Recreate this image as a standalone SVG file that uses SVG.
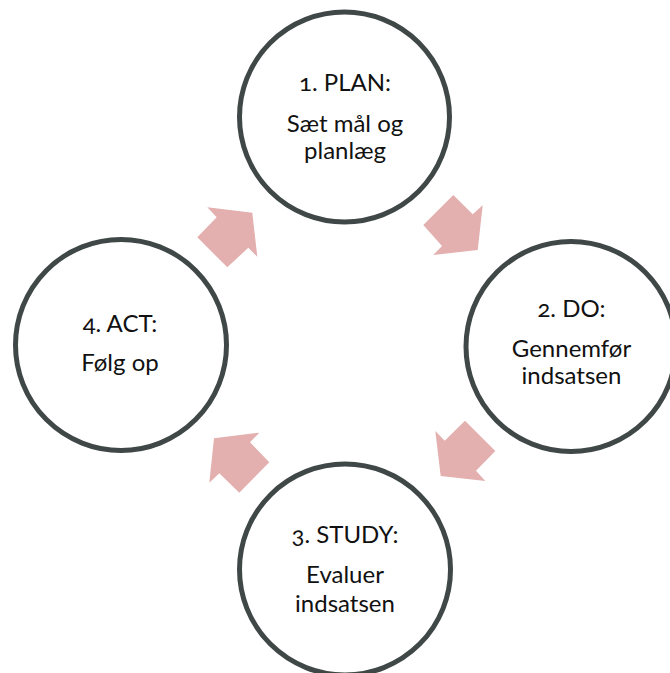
<svg xmlns="http://www.w3.org/2000/svg" width="670" height="673" viewBox="0 0 670 673">
<style>
.c{fill:#ffffff;stroke:#404847;stroke-width:5}
.a{fill:#E3AFAF;stroke:none}
.t{font-family:Lato,"Open Sans","Liberation Sans",sans-serif;font-size:24px;fill:#111111;text-anchor:middle;font-variant-numeric:oldstyle-nums;font-feature-settings:"onum" 1}
</style>
<rect x="0" y="0" width="670" height="673" fill="#ffffff"/>
<g id="connectors">
<polygon class="a" points="207.3,207.3 252.3,212.7 257.3,256.7 248.3,247.7 227.3,267.3 197.3,237.3 216.7,217.3"/>
<polygon class="a" points="453.3,195 472.7,214.3 482.7,205.3 477.7,250 433.3,255 442,246 423.3,225"/>
<polygon class="a" points="465,420.7 495.3,451 476,470.7 485.3,481 440.7,476 435.3,431 444.7,440.7"/>
<polygon class="a" points="259.3,432.7 250,442.3 269.3,462.3 239.3,492.7 219.3,473.3 209.3,482.7 214,438.3"/>
</g>
<g id="plan">
<circle class="c" cx="344.5" cy="117" r="105"/>
<text class="t" x="345" y="91">1. PLAN:</text>
<text class="t" x="345" y="131.7">Sæt mål og</text>
<text class="t" x="345" y="159.3">planlæg</text>
</g>
<g id="do">
<circle class="c" cx="571" cy="346.5" r="105"/>
<text class="t" x="571.5" y="316.7">2. DO:</text>
<text class="t" x="571.5" y="356.7">Gennemfør</text>
<text class="t" x="571.5" y="384.3">indsatsen</text>
</g>
<g id="study">
<circle class="c" cx="345" cy="569.5" r="105.5"/>
<text class="t" x="345" y="543.3">3. STUDY:</text>
<text class="t" x="345" y="582.7">Evaluer</text>
<text class="t" x="345" y="611.7">indsatsen</text>
</g>
<g id="act">
<circle class="c" cx="121" cy="345" r="105.5"/>
<text class="t" x="120" y="331.7">4. ACT:</text>
<text class="t" x="120" y="371">Følg op</text>
</g>
</svg>
